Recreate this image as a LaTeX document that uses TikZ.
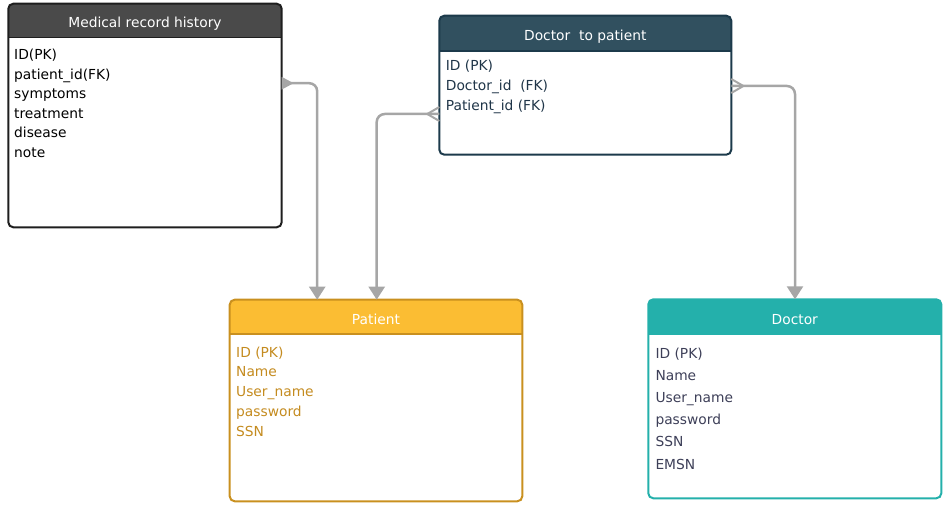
\documentclass[tikz,border=0pt]{standalone}
\usepackage{fontspec}
\setmainfont{DejaVu Sans}
\usetikzlibrary{arrows.meta,calc}
\definecolor{mrhH}{HTML}{4A4A4A}
\definecolor{mrhB}{HTML}{1E1E1E}
\definecolor{dtpH}{HTML}{31505F}
\definecolor{dtpB}{HTML}{1C3A4B}
\definecolor{dtpT}{HTML}{1F3548}
\definecolor{patH}{HTML}{FBBD33}
\definecolor{patB}{HTML}{C9901F}
\definecolor{patT}{HTML}{C48B1F}
\definecolor{docH}{HTML}{24B0AB}
\definecolor{docT}{HTML}{3D3F58}
\definecolor{connC}{HTML}{A6A6A6}
\tikzset{
 ebox/.style={rectangle, line width=2pt, inner sep=0pt, outer sep=0pt, anchor=north west},
 eline/.style={line width=2pt, rounded corners=5pt},
 htext/.style={text=white, font=\fontsize{13.8}{16}\selectfont, inner sep=0pt, anchor=base},
 ftext/.style={font=\fontsize{13.8}{16}\selectfont, inner sep=0pt, anchor=base west},
 conn/.style={draw=connC, line width=2.5pt, rounded corners=8pt},
 downtip/.style={-{Triangle[width=16pt,length=13pt]}},
 onetip/.style={{Triangle[reversed,width=12pt,length=12pt]}-{Triangle[width=16pt,length=13pt]}},
 crow/.style={draw=connC, line width=2pt},
}
\begin{document}
\begin{tikzpicture}[x=1pt,y=-1pt]
\useasboundingbox (0,0) rectangle (947,505);

% ---------- Medical record history
\node[ebox, minimum width=273.4pt, minimum height=223.6pt] (mrh) at (8.3,3.7) {};
\begin{scope}
 \clip[rounded corners=5pt] (mrh.north west) rectangle (mrh.south east);
 \fill[mrhH] (mrh.north west) rectangle ($(mrh.north east)+(0,33.6)$);
\end{scope}
\draw[mrhB, line width=1.5pt] ($(mrh.north west)+(0,33.6)$) -- ($(mrh.north east)+(0,33.6)$);
\draw[eline, mrhB] (mrh.north west) rectangle (mrh.south east);
\node[htext] (mrh-h) at ($(mrh.north)+(0,23.8)$) {Medical record history};
\foreach \t [count=\i from 0] in {ID(PK), patient\_id(FK), symptoms, treatment, disease, note}
  \node[ftext, text=black] (mrh-f\i) at ($(mrh.north west)+(5.7,{55.8+19.6*\i})$) {\t};

% ---------- Doctor to patient
\node[ebox, minimum width=292pt, minimum height=139pt] (dtp) at (439.3,15.7) {};
\begin{scope}
 \clip[rounded corners=5pt] (dtp.north west) rectangle (dtp.south east);
 \fill[dtpH] (dtp.north west) rectangle ($(dtp.north east)+(0,35.3)$);
\end{scope}
\draw[dtpB, line width=1.5pt] ($(dtp.north west)+(0,35.3)$) -- ($(dtp.north east)+(0,35.3)$);
\draw[eline, dtpB] (dtp.north west) rectangle (dtp.south east);
\node[htext] (dtp-h) at ($(dtp.north)+(0,25.3)$) {Doctor\ \ to patient};
\foreach \t [count=\i from 0] in {ID (PK), Doctor\_id\ \ (FK), Patient\_id (FK)}
  \node[ftext, text=dtpT] (dtp-f\i) at ($(dtp.north west)+(6.4,{54.8+20*\i})$) {\t};

% ---------- Patient
\node[ebox, minimum width=292.6pt, minimum height=201.6pt] (pat) at (229.7,299.7) {};
\begin{scope}
 \clip[rounded corners=5pt] (pat.north west) rectangle (pat.south east);
 \fill[patH] (pat.north west) rectangle ($(pat.north east)+(0,34.3)$);
\end{scope}
\draw[patB, line width=1.5pt] ($(pat.north west)+(0,34.3)$) -- ($(pat.north east)+(0,34.3)$);
\draw[eline, patB] (pat.north west) rectangle (pat.south east);
\node[htext] (pat-h) at ($(pat.north)+(0,24.3)$) {Patient};
\foreach \t [count=\i from 0] in {ID (PK), Name, User\_name, password, SSN}
  \node[ftext, text=patT] (pat-f\i) at ($(pat.north west)+(6.3,{57.3+19.8*\i})$) {\t};

% ---------- Doctor
\node[ebox, minimum width=293pt, minimum height=199pt] (doc) at (648.3,299.3) {};
\begin{scope}
 \clip[rounded corners=5pt] (doc.north west) rectangle (doc.south east);
 \fill[docH] (doc.north west) rectangle ($(doc.north east)+(0,35.2)$);
\end{scope}
\draw[eline, docH] (doc.north west) rectangle (doc.south east);
\node[htext] (doc-h) at ($(doc.north)+(0,24.7)$) {Doctor};
\foreach \t [count=\i from 0] in {ID (PK), Name, User\_name, password, SSN, EMSN}
  \node[ftext, text=docT] (doc-f\i) at ($(doc.north west)+(7,{58.7+22.2*\i})$) {\t};

% ---------- connectors
\coordinate (c1a) at ($(mrh.north east)+(0,79.5)$);
\coordinate (c1b) at ($(pat.north west)+(87.5,0)$);
\draw[conn, onetip] (c1a) -| (c1b);

\coordinate (c2a) at ($(dtp.north west)+(0,98.3)$);
\coordinate (c2b) at ($(pat.north west)+(147,0)$);
\draw[conn, downtip] (c2a) -| (c2b);
\coordinate (c2t) at ($(c2a)+(-12,0)$);
\draw[crow] ($(c2a)+(0,-7)$) -- (c2t) -- ($(c2a)+(0,7)$);

\coordinate (c3a) at ($(dtp.north east)+(0,70.3)$);
\coordinate (c3b) at ($(doc.north west)+(146.7,0)$);
\draw[conn, downtip] (c3a) -| (c3b);
\coordinate (c3t) at ($(c3a)+(12,0)$);
\draw[crow] ($(c3a)+(0,-7)$) -- (c3t) -- ($(c3a)+(0,7)$);
\end{tikzpicture}
\end{document}
